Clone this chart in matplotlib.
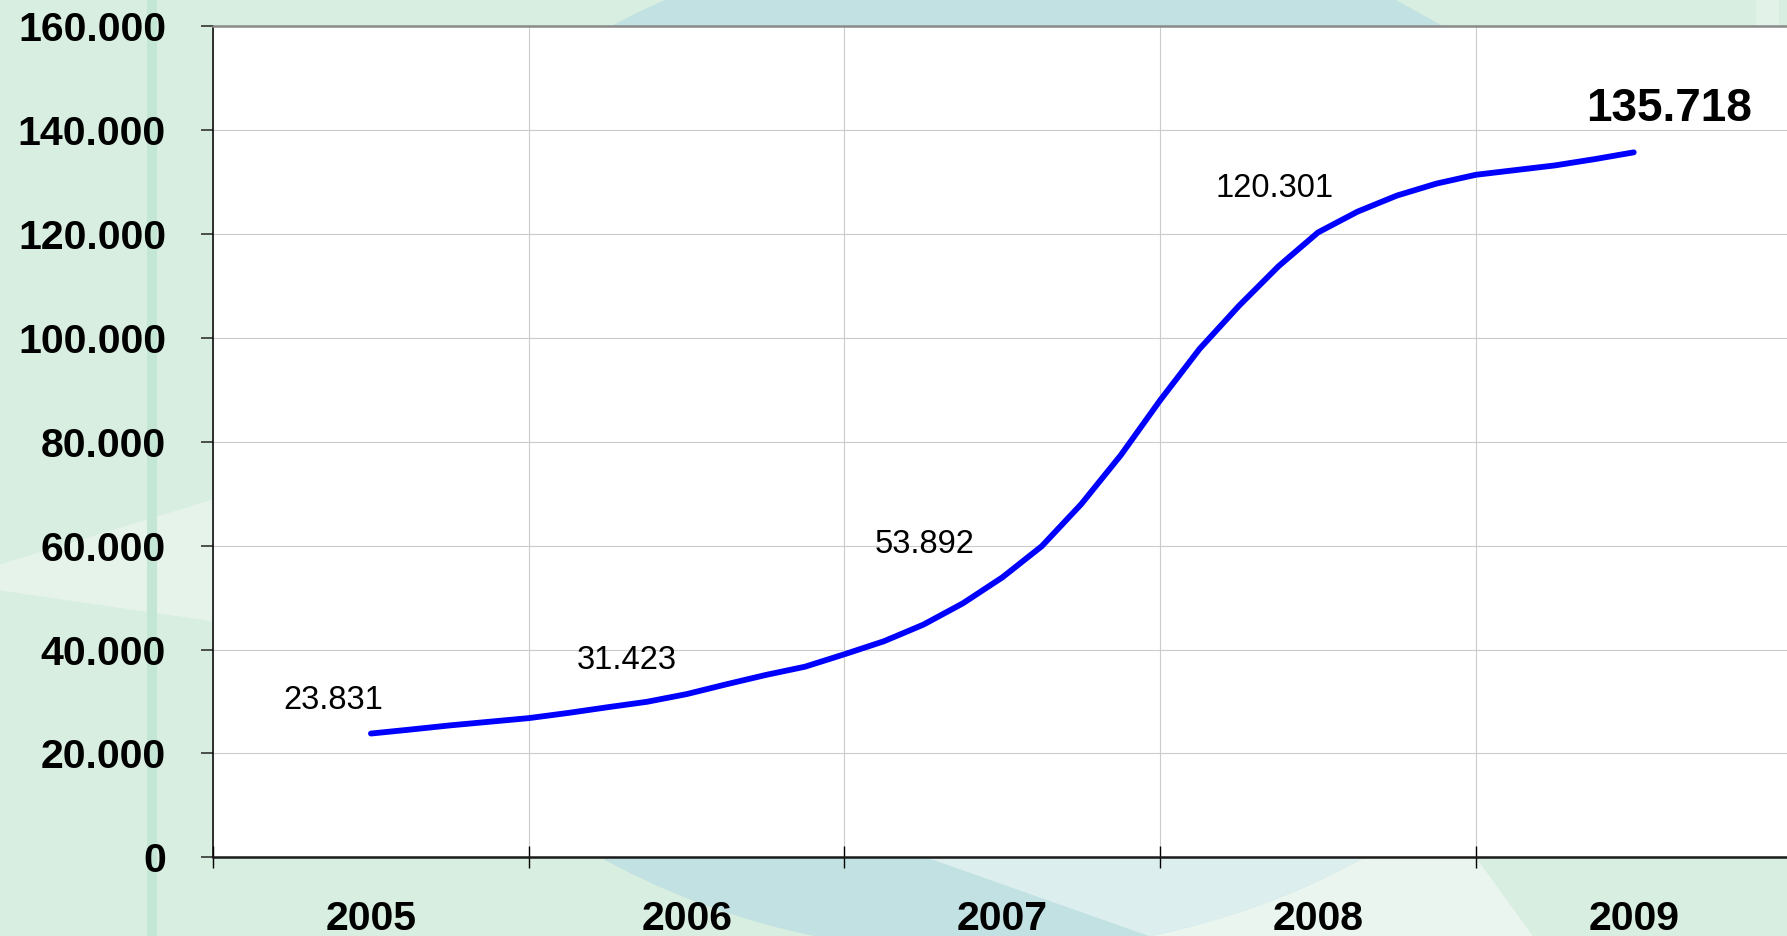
import numpy as np
import matplotlib
matplotlib.use('Agg')
from matplotlib import pyplot as plt
from matplotlib.patches import Ellipse, Polygon, Rectangle
from matplotlib.ticker import FixedLocator, FuncFormatter

plt.rcParams['font.family'] = ['Liberation Sans', 'DejaVu Sans']

# Year labels and the yearly values written on the chart.
years = [2005, 2006, 2007, 2008, 2009]
year_values = [23831, 31423, 53892, 120301, 135718]

# The drawn curve: eight steps per year.
curve_steps = list(range(33))
curve_values = [23831, 24600, 25400, 26100, 26800, 27800, 28900, 29950,
                31423, 33300, 35100, 36700, 39100, 41600, 44800, 48900,
                53892, 59900, 68000, 77400, 88000, 97900, 106200, 113800,
                120301, 124300, 127400, 129700, 131400, 132300, 133200, 134400,
                135718]

y_ticks = [0, 20000, 40000, 60000, 80000, 100000, 120000, 140000, 160000]

# Where each value label sits relative to its point (pixels).
label_offsets = [(-38, 33), (-60, 34), (-78, 33), (-43, 44), (35, 43)]

curve_x = [years[0] + s / 8 for s in curve_steps]

fig = plt.figure(figsize=(17.87, 9.36), dpi=100)
fig.patch.set_facecolor('#d8eee0')

# ---------------------------------------------------------------------------- #
#                          Slide background decoration                         #
# ---------------------------------------------------------------------------- #
bg = fig.add_axes([0, 0, 1, 1], zorder=0)
bg.set_xlim(0, 1568)
bg.set_ylim(821, 0)
bg.axis('off')

bg.add_patch(Polygon([(0, 495), (187, 438), (187, 545), (0, 518)],
                     closed=True, color='#e5f3ea', lw=0))
bg.add_patch(Rectangle((129, 0), 9, 821, color='#c4e6d5', lw=0))
bg.add_patch(Polygon([(1000, 752), (1295, 752), (1345, 821), (1000, 821)],
                     closed=True, color='#e9f5ee', lw=0))
circle = Ellipse((862, 390), 1148, 892, color='#c2e1e2', lw=0)
bg.add_patch(circle)
band = Polygon([(812, 752), (1400, 752), (1400, 821), (1008, 821)],
               closed=True, color='#dcefee', lw=0)
bg.add_patch(band)
band.set_clip_path(circle)
bg.add_patch(Polygon([(605, 0), (1225, 0), (1268, 24), (558, 24)],
                     closed=True, color='#c2e1e2', lw=0))
bg.add_patch(Rectangle((1541, 0), 20, 24, color='#e2f2e8', lw=0))

# ---------------------------------------------------------------------------- #
#                                   Main chart                                 #
# ---------------------------------------------------------------------------- #
ax = fig.add_axes([187 / 1568, 1 - 752 / 821, 1385 / 1568, 729 / 821], zorder=1)
ax.set_facecolor('white')

ax.plot(curve_x, curve_values, color='#0000ff', lw=4.2,
        solid_capstyle='round', solid_joinstyle='round', zorder=3)

ax.set_xlim(years[0] - 0.5, years[-1] + 0.5)
ax.set_ylim(0, 160000)

# Category boundaries carry the ticks and grid, the centres carry the labels.
ax.xaxis.set_major_locator(FixedLocator([y - 0.5 for y in years] + [years[-1] + 0.5]))
ax.xaxis.set_minor_locator(FixedLocator(years))
ax.xaxis.set_major_formatter(FuncFormatter(lambda v, p: ''))
ax.xaxis.set_minor_formatter(FuncFormatter(lambda v, p: str(int(round(v)))))
ax.tick_params(axis='x', which='major', direction='inout', length=16, width=1, color='black')
ax.tick_params(axis='x', which='minor', length=0, pad=30.5, labelsize=29.5)

ax.set_yticks(y_ticks)
ax.yaxis.set_major_formatter(FuncFormatter(lambda v, p: f'{int(v):,}'.replace(',', '.')))
ax.tick_params(axis='y', direction='out', length=9, width=1.2, color='#333333',
               pad=25, labelsize=29.5)

for lab in ax.get_xticklabels(minor=True) + ax.get_yticklabels():
    lab.set_fontweight('bold')

ax.grid(True, which='major', color='#cbcbcb', lw=0.8, zorder=0)
ax.set_axisbelow(True)

ax.spines['left'].set_color('black')
ax.spines['left'].set_linewidth(1.1)
ax.spines['bottom'].set_color('#1a1a1a')
ax.spines['bottom'].set_linewidth(1.8)
ax.spines['top'].set_color('#8a8a8a')
ax.spines['top'].set_linewidth(1.8)
ax.spines['right'].set_visible(False)

# Value labels for each year.
for i, (yr, val) in enumerate(zip(years, year_values)):
    last = i == len(years) - 1
    ax.annotate(f'{val:,}'.replace(',', '.'), xy=(yr, val),
                xytext=label_offsets[i], textcoords='offset pixels',
                ha='center', va='center',
                fontsize=33 if last else 23.5,
                fontweight='bold' if last else 'normal',
                color='black', zorder=4, annotation_clip=False)

fig.savefig('out.png', dpi=100, facecolor=fig.get_facecolor())
